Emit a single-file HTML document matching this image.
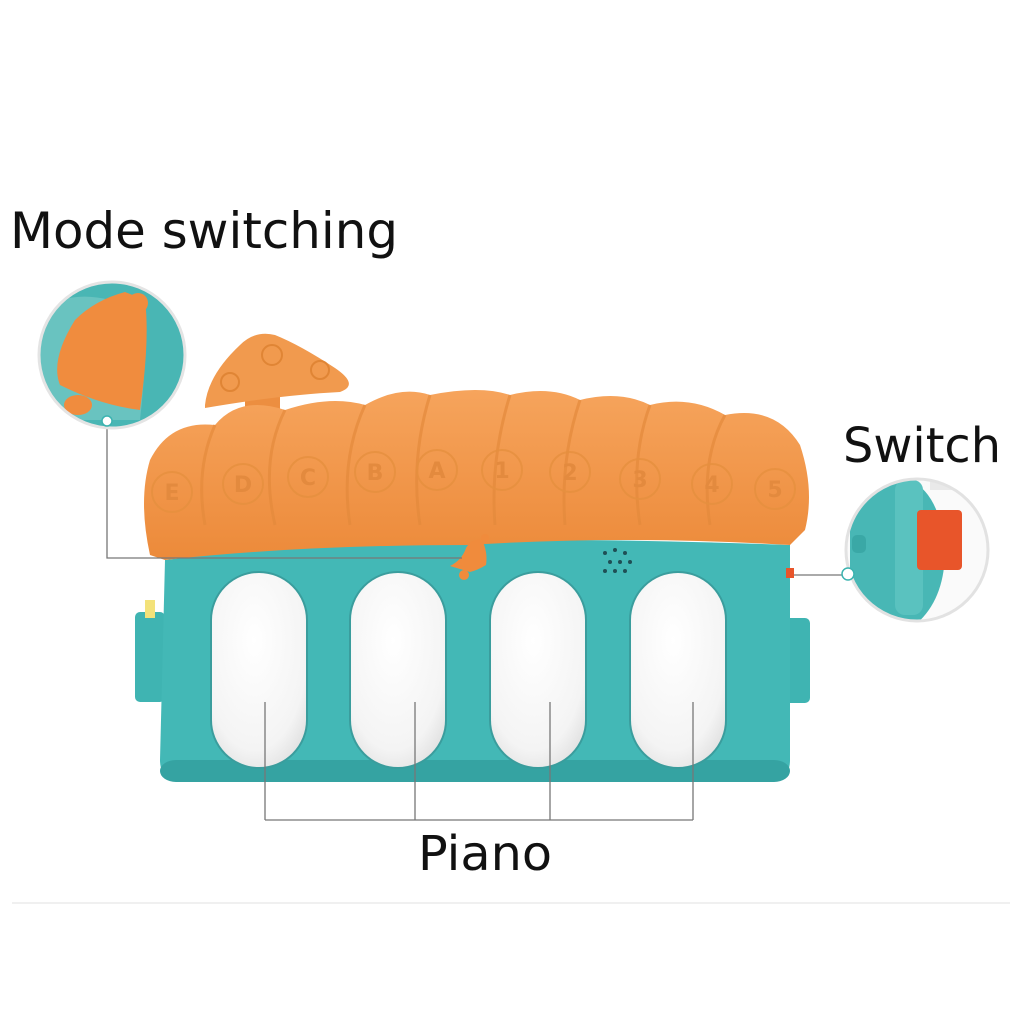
<!DOCTYPE html>
<html><head><meta charset="utf-8"><style>
html,body{margin:0;padding:0;background:#fff;width:1024px;height:1024px;overflow:hidden}
svg{display:block}
text{font-family:"DejaVu Sans","Liberation Sans",sans-serif;fill:#111}
</style></head><body>
<svg width="1024" height="1024" viewBox="0 0 1024 1024">
<defs>
<radialGradient id="key" cx="0.45" cy="0.35" r="0.8">
<stop offset="0" stop-color="#ffffff"/><stop offset="0.7" stop-color="#f4f4f4"/><stop offset="1" stop-color="#d8d8d8"/>
</radialGradient>
<linearGradient id="roof" x1="0" y1="0" x2="0" y2="1">
<stop offset="0" stop-color="#f6a45c"/><stop offset="1" stop-color="#ec8a3a"/>
</linearGradient>
<clipPath id="c1"><circle cx="112" cy="355" r="72"/></clipPath>
<clipPath id="c2"><circle cx="917" cy="550" r="70"/></clipPath>
</defs>
<text x="10" y="248" font-size="50" textLength="388" lengthAdjust="spacingAndGlyphs">Mode switching</text>
<text x="843" y="462" font-size="48" textLength="158" lengthAdjust="spacingAndGlyphs">Switch</text>
<text x="418" y="870" font-size="48" textLength="134" lengthAdjust="spacingAndGlyphs">Piano</text>
<line x1="12" y1="903" x2="1010" y2="903" stroke="#f0f0f0" stroke-width="2"/>

<rect x="135" y="612" width="30" height="90" rx="5" fill="#3fb4b2"/>
<rect x="145" y="600" width="10" height="18" fill="#f3e27a"/>
<rect x="785" y="618" width="25" height="85" rx="5" fill="#3fb4b2"/>
<path d="M165 560 Q400 530 790 545 L790 760 Q790 782 765 782 L185 782 Q160 782 160 760 Z" fill="#43b8b6"/>
<rect x="160" y="760" width="630" height="22" rx="16" fill="#35a3a2"/>
<!-- mushroom -->
<rect x="245" y="385" width="35" height="40" fill="#ec8e40"/>
<path d="M205 405 Q208 375 240 345 Q255 330 275 335 Q300 345 335 368 Q360 385 340 392 Q280 395 205 408 Z" fill="#f19a4e"/>
<circle cx="272" cy="355" r="10" fill="none" stroke="#e08535" stroke-width="2"/>
<circle cx="320" cy="370" r="9" fill="none" stroke="#e08535" stroke-width="2"/>
<circle cx="230" cy="382" r="9" fill="none" stroke="#e08535" stroke-width="2"/>
<path d="M150 555 Q138 500 150 460 Q170 420 215 425 Q240 395 285 410 Q330 395 365 405 Q400 385 430 395 Q480 385 510 395 Q550 385 580 400 Q620 390 650 405 Q690 395 725 415 Q775 405 800 445 Q815 490 805 530 L790 545 Q620 535 470 545 Q300 545 165 560 Z" fill="url(#roof)"/>
<g fill="none" stroke="#e48a3c" stroke-width="3" opacity="0.7">
<path d="M215 425 Q195 470 205 525"/><path d="M285 410 Q260 460 275 525"/><path d="M365 405 Q340 460 350 525"/>
<path d="M430 395 Q410 460 420 525"/><path d="M510 395 Q490 460 495 525"/><path d="M580 400 Q560 460 565 525"/>
<path d="M650 405 Q630 460 640 525"/><path d="M725 415 Q700 460 710 525"/>
</g>
<g fill="none" stroke="#e6903f" stroke-width="2" opacity="0.8">
<circle cx="172" cy="492" r="20"/><circle cx="243" cy="484" r="20"/><circle cx="308" cy="477" r="20"/><circle cx="375" cy="472" r="20"/><circle cx="437" cy="470" r="20"/><circle cx="502" cy="470" r="20"/><circle cx="570" cy="472" r="20"/><circle cx="640" cy="479" r="20"/><circle cx="712" cy="484" r="20"/><circle cx="775" cy="489" r="20"/>
</g>
<g font-size="22" text-anchor="middle" font-weight="bold">
<text x="172" y="500" style="fill:#e38a3e">E</text><text x="243" y="492" style="fill:#e38a3e">D</text>
<text x="308" y="485" style="fill:#e38a3e">C</text><text x="375" y="480" style="fill:#e38a3e">B</text>
<text x="437" y="478" style="fill:#e38a3e">A</text><text x="502" y="478" style="fill:#e38a3e">1</text>
<text x="570" y="480" style="fill:#e38a3e">2</text><text x="640" y="487" style="fill:#e38a3e">3</text>
<text x="712" y="492" style="fill:#e38a3e">4</text><text x="775" y="497" style="fill:#e38a3e">5</text>
</g>
<!-- bell -->
<path d="M450 566 Q462 560 466 548 Q472 538 482 540 Q488 552 486 565 Q478 570 470 572 Z" fill="#f08b3c"/>
<circle cx="485" cy="538" r="4" fill="#f08b3c"/>
<circle cx="464" cy="575" r="5" fill="#f08b3c"/>
<g fill="#1f4f55"><circle cx="605" cy="553" r="2"/><circle cx="615" cy="550" r="2"/><circle cx="625" cy="553" r="2"/><circle cx="610" cy="562" r="2"/><circle cx="620" cy="562" r="2"/><circle cx="630" cy="562" r="2"/><circle cx="605" cy="571" r="2"/><circle cx="615" cy="571" r="2"/><circle cx="625" cy="571" r="2"/></g>
<rect x="786" y="568" width="8" height="10" fill="#e8552a"/>
<rect x="211" y="572" width="96" height="196" rx="48" fill="url(#key)" stroke="#3a9d9d" stroke-width="2"/>
<rect x="350" y="572" width="96" height="196" rx="48" fill="url(#key)" stroke="#3a9d9d" stroke-width="2"/>
<rect x="490" y="572" width="96" height="196" rx="48" fill="url(#key)" stroke="#3a9d9d" stroke-width="2"/>
<rect x="630" y="572" width="96" height="196" rx="48" fill="url(#key)" stroke="#3a9d9d" stroke-width="2"/>
<g stroke="#777" stroke-width="1.3" fill="none">
<path d="M265 702 V820 M415 702 V820 M550 702 V820 M693 702 V820 M265 820 H693"/>
<path d="M107 425 V558 H462"/>
<path d="M794 575 H842"/>
</g>
<g clip-path="url(#c1)">
<rect x="30" y="280" width="170" height="160" fill="#49b6b4"/>
<path d="M40 310 Q70 290 110 300 L140 300 Q150 330 140 420 L40 420 Z" fill="#7fcbc8" opacity="0.6"/>
<path d="M60 385 Q50 360 75 320 Q95 300 125 292 L145 300 Q150 340 140 410 Q100 405 60 385 Z" fill="#f08c3e"/>
<circle cx="138" cy="303" r="10" fill="#f08c3e"/>
<ellipse cx="78" cy="405" rx="14" ry="10" fill="#f08c3e"/>
</g>
<circle cx="112" cy="355" r="73" fill="none" stroke="#e4e4e4" stroke-width="3"/>
<circle cx="107" cy="421" r="5" fill="#fff" stroke="#3cb3b0" stroke-width="1.5"/>
<g clip-path="url(#c2)">
<rect x="840" y="470" width="160" height="160" fill="#fafafa"/>
<path d="M905 478 Q940 490 945 550 Q945 600 915 625 L850 625 L850 478 Z" fill="#48b7b5"/>
<rect x="895" y="480" width="28" height="135" rx="10" fill="#5ac2bf"/>
<rect x="917" y="510" width="45" height="60" rx="4" fill="#e8552a"/>
<rect x="930" y="470" width="70" height="20" fill="#e9e9e9"/>
<rect x="852" y="535" width="14" height="18" rx="5" fill="#3aa8a6"/>
</g>
<circle cx="917" cy="550" r="71" fill="none" stroke="#e2e2e2" stroke-width="3"/>
<circle cx="848" cy="574" r="6" fill="#fff" stroke="#3cb3b0" stroke-width="1.5"/>
</svg>
</body></html>
